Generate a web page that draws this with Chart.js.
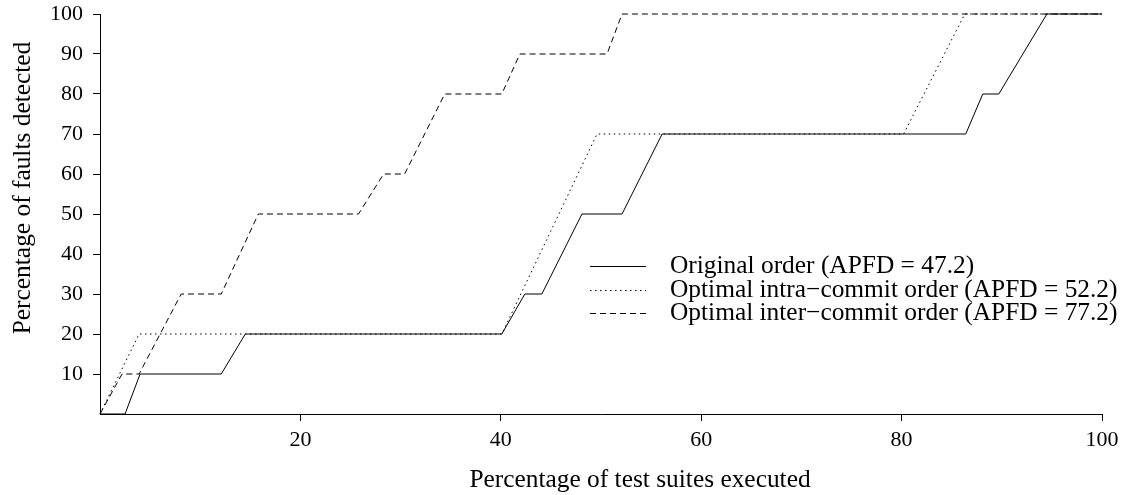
<!DOCTYPE html>
<html>
<head>
<meta charset="utf-8">
<script src="https://cdn.jsdelivr.net/npm/chart.js@4/dist/chart.umd.min.js"></script>
<style>
  html, body { margin: 0; padding: 0; background: #fff; }
  #wrap { width: 1135px; height: 495px; }
</style>
</head>
<body>
<div id="wrap"><canvas id="c" width="1135" height="495"></canvas></div>
<script>
// Cumulative fault detection curves (percent of suites run -> percent of faults found)
const originalX = [0, 2.5, 4.0, 12.1, 14.5, 40.1, 42.4, 44.1, 48.1, 52.1, 56.1, 86.4, 88.1, 89.7, 94.5, 100];
const originalY = [0, 0, 10, 10, 20, 20, 30, 30, 50, 50, 70, 70, 80, 80, 100, 100];

const intraX = [0, 3.9, 40.1, 49.6, 80.2, 86.3, 100];
const intraY = [0, 20, 20, 70, 70, 100, 100];

const interX = [0, 2.2, 3.9, 8.1, 12.1, 15.8, 25.8, 28.3, 30.4, 34.4, 40.1, 41.9, 50.6, 52.1, 100];
const interY = [0, 10, 10, 30, 30, 50, 50, 60, 60, 80, 80, 90, 90, 100, 100];

const seriesLabels = [
  'Original order (APFD = 47.2)',
  'Optimal intra\u2212commit order (APFD = 52.2)',
  'Optimal inter\u2212commit order (APFD = 77.2)'
];

const xTicks = [20, 40, 60, 80, 100];
const yTicks = [10, 20, 30, 40, 50, 60, 70, 80, 90, 100];

const xTitle = 'Percentage of test suites executed';
const yTitle = 'Percentage of faults detected';

const SERIF = '"Liberation Serif", "Times New Roman", serif';

function pts(xs, ys) { return xs.map((x, i) => ({ x: x, y: ys[i] })); }

const styles = [
  { dash: [] },
  { dash: [1.5, 3.5] },
  { dash: [6, 4] }
];

const datasets = [
  { label: seriesLabels[0], data: pts(originalX, originalY) },
  { label: seriesLabels[1], data: pts(intraX, intraY) },
  { label: seriesLabels[2], data: pts(interX, interY) }
].map((d, i) => Object.assign(d, {
  borderColor: '#000',
  borderWidth: 1,
  borderDash: styles[i].dash,
  pointRadius: 0,
  tension: 0,
  fill: false,
  clip: false,
  showLine: true
}));

// Legend drawn inside the plot, R-style: line sample followed by label
const insideLegend = {
  id: 'insideLegend',
  afterDraw(chart) {
    const ctx = chart.ctx;
    const x0 = 590, x1 = 646, tx = 670, y0 = 266, dy = 23.7;
    ctx.save();
    ctx.font = '25.4px ' + SERIF;
    ctx.fillStyle = '#000';
    ctx.textBaseline = 'middle';
    ctx.textAlign = 'left';
    chart.data.datasets.forEach((ds, i) => {
      const y = Math.round(y0 + dy * i) + 0.5;
      ctx.beginPath();
      ctx.setLineDash(ds.borderDash || []);
      ctx.strokeStyle = ds.borderColor;
      ctx.lineWidth = 1;
      ctx.moveTo(x0, y);
      ctx.lineTo(x1, y);
      ctx.stroke();
      ctx.setLineDash([]);
      ctx.fillText(ds.label, tx, y);
    });
    ctx.restore();
  }
};

// Axis titles placed relative to the figure margins
const axisTitles = {
  id: 'axisTitles',
  afterDraw(chart) {
    const ctx = chart.ctx;
    ctx.save();
    ctx.font = '25.4px ' + SERIF;
    ctx.fillStyle = '#000';
    ctx.textAlign = 'center';
    ctx.textBaseline = 'alphabetic';
    ctx.fillText(xTitle, 640, 487);
    ctx.translate(30, 188);
    ctx.rotate(-Math.PI / 2);
    ctx.fillText(yTitle, 0, 0);
    ctx.restore();
  }
};

const hideZero = (ctx) => (ctx.tick && ctx.tick.value === 0) ? 'rgba(0,0,0,0)' : '#000';

new Chart(document.getElementById('c'), {
  type: 'scatter',
  data: { datasets: datasets },
  plugins: [insideLegend, axisTitles],
  options: {
    responsive: false,
    animation: false,
    devicePixelRatio: 1,
    layout: { padding: { left: 0, right: 33, top: 14, bottom: 0 } },
    plugins: { legend: { display: false }, tooltip: { enabled: false } },
    scales: {
      x: {
        type: 'linear',
        min: 0, max: 100,
        afterBuildTicks(scale) { scale.ticks = [0].concat(xTicks).map(v => ({ value: v })); },
        afterFit(scale) { scale.height = 81; scale.paddingLeft = 0; scale.paddingRight = 0; },
        ticks: {
          color: '#000',
          padding: 6,
          maxRotation: 0,
          font: { family: SERIF, size: 22 },
          callback: (v) => v === 0 ? '' : String(v)
        },
        grid: { drawOnChartArea: false, drawTicks: true, tickLength: 7, color: hideZero, lineWidth: 1 },
        border: { display: true, color: '#000', width: 1 }
      },
      y: {
        type: 'linear',
        min: 0, max: 100,
        afterBuildTicks(scale) { scale.ticks = [0].concat(yTicks).map(v => ({ value: v })); },
        afterFit(scale) { scale.width = 100; scale.paddingTop = 0; scale.paddingBottom = 0; },
        ticks: {
          color: '#000',
          padding: 10,
          font: { family: SERIF, size: 22 },
          callback: (v) => v === 0 ? '' : String(v)
        },
        grid: { drawOnChartArea: false, drawTicks: true, tickLength: 7, color: hideZero, lineWidth: 1 },
        border: { display: true, color: '#000', width: 1 }
      }
    }
  }
});
</script>
</body>
</html>
